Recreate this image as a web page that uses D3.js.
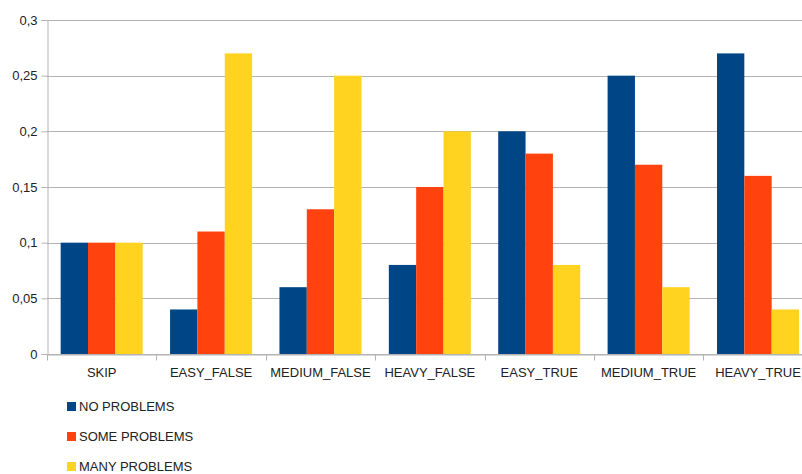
<!DOCTYPE html>
<html>
<head>
<meta charset="utf-8">
<script src="https://cdn.jsdelivr.net/npm/d3@7"></script>
<style>
  body { margin: 0; background: #fff; }
  svg { display: block; font-family: "Liberation Sans", Arial, sans-serif; }
</style>
</head>
<body>
<svg width="802" height="474"></svg>
<script>
const categories = ["SKIP", "EASY_FALSE", "MEDIUM_FALSE", "HEAVY_FALSE", "EASY_TRUE", "MEDIUM_TRUE", "HEAVY_TRUE"];
const seriesNames = ["NO PROBLEMS", "SOME PROBLEMS", "MANY PROBLEMS"];
const noProblems   = [0.10, 0.04, 0.06, 0.08, 0.20, 0.25, 0.27];
const someProblems = [0.10, 0.11, 0.13, 0.15, 0.18, 0.17, 0.16];
const manyProblems = [0.10, 0.27, 0.25, 0.20, 0.08, 0.06, 0.04];
const yTicks = [0, 0.05, 0.1, 0.15, 0.2, 0.25, 0.3];
const yTickLabels = ["0", "0,05", "0,1", "0,15", "0,2", "0,25", "0,3"];
const colors = ["#004586", "#ff420e", "#ffd320"];

const seriesValues = [noProblems, someProblems, manyProblems];
const data = categories.map((c, i) => ({
    cat: c,
    vals: seriesValues.map((s, j) => ({ name: seriesNames[j], v: s[i] }))
}));

const svg = d3.select('svg');

// plot runs a bit past the right edge, like the original screenshot
const plotLeft = 47, plotRight = 812.7, plotTop = 20, plotBottom = 354;

const yScale = d3.scaleLinear()
    .domain([0, 0.3])
    .range([plotBottom, plotTop]);

const xScale = d3.scaleBand()
    .domain(categories)
    .range([plotLeft, plotRight])
    .padding(0);

const bw = xScale.bandwidth();
const xInner = d3.scaleBand()
    .domain(seriesNames)
    .range([bw * 0.125, bw * 0.875])
    .padding(0);

// gridlines
svg.append('g')
    .selectAll('line')
    .data(yTicks)
    .enter().append('line')
    .attr('x1', plotLeft)
    .attr('x2', 802)
    .attr('y1', d => Math.round(yScale(d)) + 0.5)
    .attr('y2', d => Math.round(yScale(d)) + 0.5)
    .attr('stroke', '#b3b3b3')
    .attr('stroke-width', 1);

// bars
const groups = svg.append('g')
    .selectAll('g')
    .data(data)
    .enter().append('g')
    .attr('transform', d => `translate(${xScale(d.cat)},0)`);

groups.selectAll('rect')
    .data(d => d.vals)
    .enter().append('rect')
    .attr('x', d => xInner(d.name))
    .attr('width', xInner.bandwidth())
    .attr('y', d => yScale(d.v))
    .attr('height', d => yScale(0) - yScale(d.v))
    .attr('fill', (d, i) => colors[i]);

// y axis
const yAxis = d3.axisLeft(yScale)
    .tickValues(yTicks)
    .tickFormat((d, i) => yTickLabels[i])
    .tickSize(6)
    .tickPadding(4);

svg.append('g')
    .attr('class', 'ax y')
    .attr('transform', `translate(${plotLeft + 0.5},0)`)
    .call(yAxis);

// x axis
const xAxis = d3.axisBottom(xScale)
    .tickSize(0)
    .tickPadding(13);

const xg = svg.append('g')
    .attr('class', 'ax x')
    .attr('transform', `translate(0, ${plotBottom + 0.5})`)
    .call(xAxis);

// category separators
xg.selectAll('.sep')
    .data(categories)
    .enter().append('line')
    .attr('class', 'sep')
    .attr('x1', d => Math.round(xScale(d)) + 0.5)
    .attr('x2', d => Math.round(xScale(d)) + 0.5)
    .attr('y1', 0)
    .attr('y2', 6)
    .attr('stroke', '#b3b3b3');

svg.selectAll('.ax .domain').attr('stroke', '#b3b3b3');
svg.selectAll('.ax .tick line').attr('stroke', '#b3b3b3');
svg.selectAll('.ax text')
    .attr('fill', '#222')
    .style('font-size', '13px')
    .style('font-family', '"Liberation Sans", Arial, sans-serif');

// legend
const legend = svg.append('g')
    .selectAll('g')
    .data(seriesNames)
    .enter().append('g')
    .attr('transform', (d, i) => `translate(67, ${402 + i * 30})`);

legend.append('rect')
    .attr('width', 9)
    .attr('height', 9)
    .attr('fill', (d, i) => colors[i]);

legend.append('text')
    .attr('x', 12)
    .attr('y', 9)
    .attr('fill', '#222')
    .style('font-size', '13px')
    .text(d => d);
</script>
</body>
</html>
